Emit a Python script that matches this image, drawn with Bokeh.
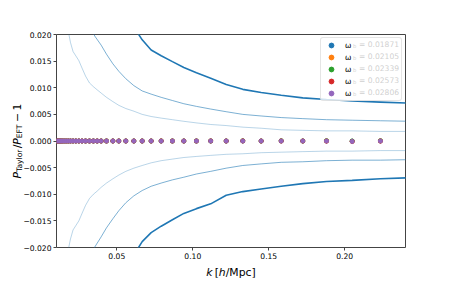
import math
from bokeh.plotting import figure
from bokeh.models import (Label, Legend, LegendItem, FixedTicker,
                          CustomJSTickFormatter, Range1d)
from bokeh.embed import file_html
from bokeh.resources import INLINE

# ---------------- data ----------------
k_pts = [0.0106, 0.0114, 0.0122, 0.0131, 0.0141, 0.0153, 0.0166, 0.0180, 0.0195,
         0.0212, 0.0230, 0.0250, 0.0271, 0.0294, 0.0320, 0.0346, 0.0371, 0.0397,
         0.0432, 0.0474, 0.0513, 0.0559, 0.0612, 0.0667, 0.0726, 0.0792, 0.0866,
         0.0941, 0.1024, 0.1118, 0.1220, 0.1329, 0.1450, 0.1582, 0.1724, 0.1880,
         0.2049, 0.2235]

wb_labels = ["0.01871", "0.02105", "0.02339", "0.02573", "0.02806"]
wb_colors = ["#1f77b4", "#ff7f0e", "#2ca02c", "#d62728", "#9467bd"]

z22 = [0.0] * 22
dev_1 = z22 + [0.0, 0.0, 0.0, 0.0, 0.0, 0.0, 0.0, 0.0, 0.0, 0.00002, 0.0, 0.00003,
               0.0, 0.00003, 0.0, 0.00004]
dev_2 = z22 + [0.0, 0.0, 0.0, 0.00003, 0.0, 0.0, 0.0, 0.00003, 0.0, 0.00004, 0.0, 0.00005,
               0.0, 0.00005, -0.00003, 0.00006]
dev_3 = z22 + [0.0, 0.0, 0.0, 0.0, 0.0, 0.0, 0.0, 0.0, 0.0, 0.00001, 0.0, 0.00002,
               0.0, 0.00002, -0.00002, 0.00002]
dev_4 = z22 + [0.0, 0.0, 0.0, 0.0, 0.0, 0.0, 0.0, 0.0, 0.0, 0.0, 0.0, -0.00002,
               0.0, -0.00003, -0.00010, -0.00003]
dev_5 = z22 + [0.0, 0.0, 0.0, 0.0, 0.0, 0.0, 0.0, 0.00001, 0.0, 0.0, 0.0, 0.0,
               0.0, 0.0, -0.00008, 0.0]
devs = [dev_1, dev_2, dev_3, dev_4, dev_5]

k_outer = [0.0559, 0.0612, 0.0667, 0.0726, 0.0792, 0.0866, 0.0941, 0.1024, 0.1118,
           0.1220, 0.1329, 0.1450, 0.1582, 0.1724, 0.1880, 0.2049, 0.2235, 0.2437]
outer_up = [0.0245, 0.0214, 0.0190, 0.0171, 0.0160, 0.0149, 0.0138, 0.0128, 0.0118,
            0.0106, 0.0097, 0.0091, 0.0086, 0.0081, 0.0078, 0.0075, 0.0073, 0.0071]
outer_lo = [-0.0245, -0.0214, -0.0189, -0.0172, -0.0160, -0.0148, -0.0136, -0.0127, -0.0118,
            -0.0102, -0.0095, -0.0090, -0.0085, -0.0080, -0.0076, -0.0074, -0.0071, -0.0069]

k_mid = [0.0326, 0.0355, 0.0397, 0.0432, 0.0474, 0.0513, 0.0559, 0.0612, 0.0667,
         0.0726, 0.0792, 0.0866, 0.0941, 0.1024, 0.1118, 0.1220, 0.1329, 0.1450,
         0.1582, 0.1724, 0.1880, 0.2049, 0.2235, 0.2437]
mid_up = [0.0215, 0.0197, 0.0180, 0.0163, 0.0145, 0.0131, 0.0117, 0.0104, 0.0094,
          0.0088, 0.0082, 0.0076, 0.0070, 0.0065, 0.0060, 0.0055, 0.0050, 0.0047,
          0.0044, 0.0042, 0.0040, 0.0039, 0.0038, 0.0037]
mid_lo = [-0.0215, -0.0199, -0.0180, -0.0163, -0.0146, -0.0131, -0.0116, -0.0103, -0.0093,
          -0.0085, -0.0079, -0.0073, -0.0068, -0.0062, -0.0057, -0.0051, -0.0046, -0.0043,
          -0.0040, -0.0039, -0.0037, -0.0036, -0.0036, -0.0035]

k_inner = [0.0166, 0.0180, 0.0195, 0.0212, 0.0230, 0.0250, 0.0271, 0.0294, 0.0320,
           0.0346, 0.0371, 0.0397, 0.0432, 0.0474, 0.0513, 0.0559, 0.0612, 0.0667,
           0.0726, 0.0792, 0.0866, 0.0941, 0.1024, 0.1118, 0.1220, 0.1329, 0.1450,
           0.1582, 0.1724, 0.1880, 0.2049, 0.2235, 0.2437]
inner_up = [0.0225, 0.0207, 0.0185, 0.0168, 0.0160, 0.0151, 0.0137, 0.0122, 0.0109,
            0.0102, 0.0096, 0.0090, 0.0082, 0.0074, 0.0067, 0.0061, 0.0056, 0.0050,
            0.0046, 0.0043, 0.0040, 0.0037, 0.0034, 0.0031, 0.0029, 0.0026, 0.0024,
            0.0021, 0.0020, 0.0019, 0.0019, 0.0018, 0.0018]
inner_lo = [-0.0225, -0.0205, -0.0184, -0.0167, -0.0159, -0.0150, -0.0136, -0.0121, -0.0108,
            -0.0100, -0.0094, -0.0087, -0.0079, -0.0071, -0.0064, -0.0057, -0.0051, -0.0046,
            -0.0041, -0.0037, -0.0034, -0.0031, -0.0029, -0.0027, -0.0025, -0.0024, -0.0022,
            -0.0021, -0.0020, -0.0019, -0.0019, -0.0018, -0.0018]

x_ticks = [0.05, 0.10, 0.15, 0.20]
y_ticks = [-0.020, -0.015, -0.010, -0.005, 0.0, 0.005, 0.010, 0.015, 0.020]

# ---------------- main figure ----------------
FONT = "DejaVu Sans"
INK = "black"
W, H = 450, 282
p = figure(width=W, height=H, x_range=(0.0103, 0.240), y_range=(-0.020, 0.020),
           output_backend="svg", toolbar_location=None,
           min_border_left=56, min_border_right=45, min_border_top=34, min_border_bottom=35)
p.xgrid.visible = False
p.ygrid.visible = False
p.outline_line_color = "#444444"
p.outline_line_width = 1
p.background_fill_color = "white"
p.border_fill_color = "white"

for ax, ticks, fmt in [(p.xaxis[0], x_ticks, 2), (p.yaxis[0], y_ticks, 3)]:
    ax.ticker = FixedTicker(ticks=ticks)
    ax.formatter = CustomJSTickFormatter(
        code="return (tick < -1e-12 ? '\u2212' : '') + Math.abs(tick).toFixed(%d);" % fmt)
    ax.axis_line_color = None
    ax.major_tick_line_color = "#444444"
    ax.major_tick_out = 3
    ax.major_tick_in = 0
    ax.minor_tick_line_color = None
    ax.major_label_text_font = FONT
    ax.major_label_text_font_size = "7.6px"
    ax.major_label_text_color = INK
    ax.major_label_standoff = 2

blue = "#1f77b4"
p.line(k_inner, inner_up, line_color=blue, line_width=0.9, line_alpha=0.35)
p.line(k_inner, inner_lo, line_color=blue, line_width=0.9, line_alpha=0.35)
p.line(k_mid, mid_up, line_color=blue, line_width=0.9, line_alpha=0.65)
p.line(k_mid, mid_lo, line_color=blue, line_width=0.9, line_alpha=0.65)
p.line(k_outer, outer_up, line_color=blue, line_width=1.6)
p.line(k_outer, outer_lo, line_color=blue, line_width=1.6)

rends = []
for dv, col in zip(devs, wb_colors):
    rends.append(p.scatter(k_pts, dv, size=4, fill_color=col, line_color=col))

legend = Legend(items=[LegendItem(label="\u03c9", renderers=[r]) for r in rends],
                location="top_right", margin=3, padding=1, spacing=0,
                glyph_width=18, glyph_height=12, label_height=12, label_width=55,
                label_standoff=5, label_text_font=FONT, label_text_font_size="7.6px",
                label_text_color=INK, border_radius=3,
                border_line_color="#cccccc", border_line_width=1,
                background_fill_color="white", background_fill_alpha=0.8)
p.add_layout(legend, "center")

for i, lab in enumerate(wb_labels):
    yc = 213 - (10 + 12 * i)  # measured from frame bottom (frame height 213)
    p.add_layout(Label(x=296.6, y=yc - 1.8, x_units="screen", y_units="screen", text="b",
                       text_font=FONT, text_font_size="5.3px", text_baseline="middle",
                       text_align="left", text_color=INK))
    p.add_layout(Label(x=302.4, y=yc, x_units="screen", y_units="screen",
                       text="= " + lab, text_font=FONT, text_font_size="7.6px",
                       text_baseline="middle", text_align="left", text_color=INK))

# ---------------- transparent overlay (separate root) for the axis titles ----------------
q = figure(width=W, height=H, x_range=Range1d(0, W), y_range=Range1d(0, H),
           output_backend="svg", toolbar_location=None,
           x_axis_location=None, y_axis_location=None,
           min_border=0, min_border_left=0, min_border_right=0,
           min_border_top=0, min_border_bottom=0)
q.xgrid.visible = False
q.ygrid.visible = False
q.outline_line_color = None
q.background_fill_color = None
q.border_fill_color = None
q.styles = {"position": "absolute", "top": "0px", "left": "0px"}

# x title: k [h/Mpc]   (screen px from canvas left / from canvas bottom)
for txt, x0, style in [("k", 205.7, "italic"), ("[", 214.15, "normal"),
                       ("h", 218.35, "italic"), ("/Mpc]", 225.2, "normal")]:
    q.add_layout(Label(x=x0, y=H - 272, x_units="screen", y_units="screen", text=txt,
                       text_font=FONT, text_font_size="10.8px",
                       text_font_style=style, text_baseline="alphabetic",
                       text_align="left", text_color=INK))

# y title: P_Taylor / P_EFT − 1 (rotated)
for txt, yy, xx, fs, style in [("P", 178.0, 16.5, "10.8px", "italic"),
                               ("Taylor", 171.5, 19.0, "7.6px", "normal"),
                               ("/", 147.8, 16.5, "10.8px", "normal"),
                               ("P", 144.2, 16.5, "10.8px", "italic"),
                               ("EFT", 137.7, 19.0, "7.6px", "normal"),
                               ("\u2212", 121.5, 16.5, "10.8px", "normal"),
                               ("1", 110.0, 16.5, "10.8px", "normal")]:
    q.add_layout(Label(x=xx, y=H - yy, x_units="screen", y_units="screen", text=txt,
                       angle=math.pi / 2, text_font=FONT,
                       text_font_size=fs, text_font_style=style,
                       text_baseline="alphabetic", text_align="left", text_color=INK))

open("out.html", "w").write(file_html([p, q], INLINE))
